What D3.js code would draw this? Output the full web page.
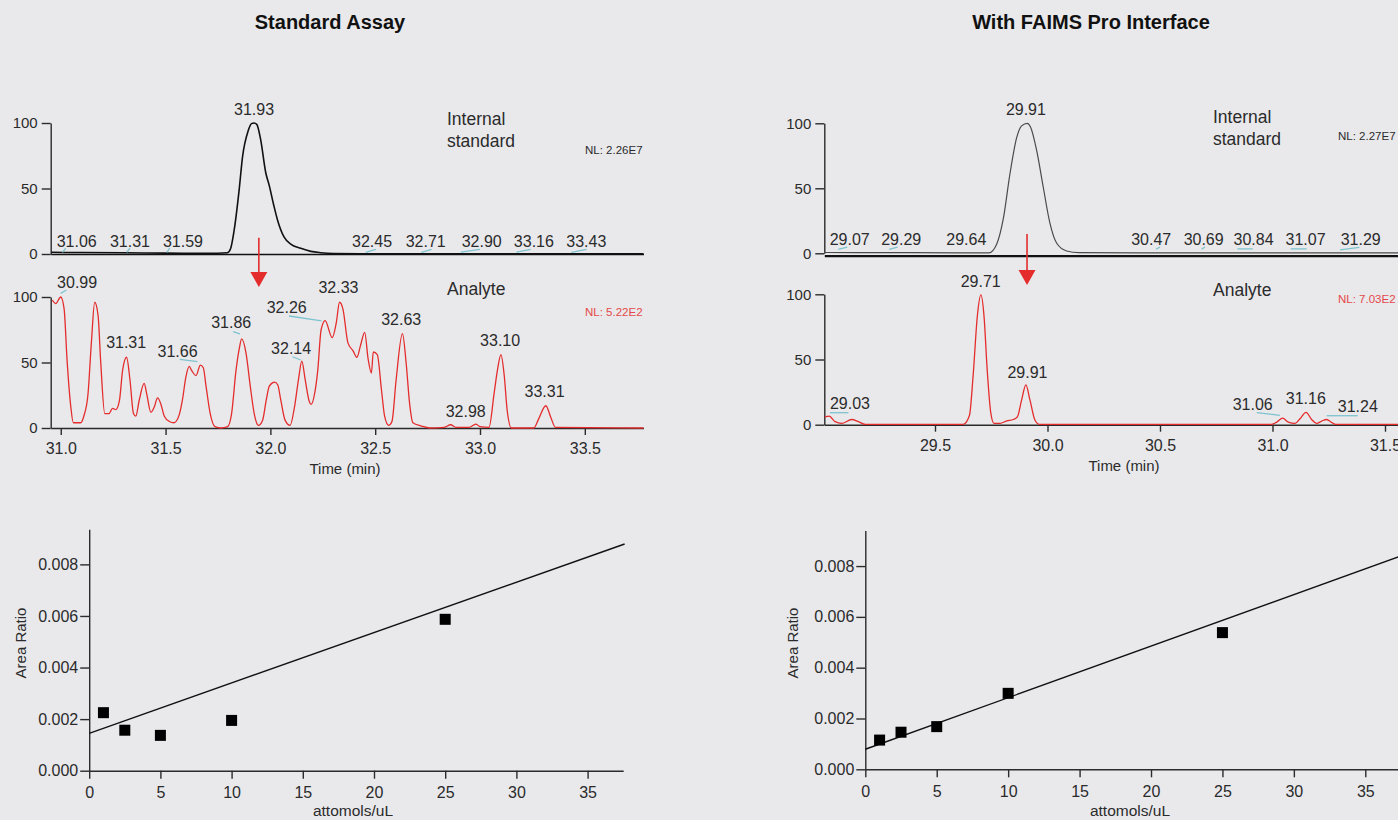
<!DOCTYPE html>
<html>
<head>
<meta charset="utf-8">
<script src="https://cdn.jsdelivr.net/npm/d3@7"></script>
<style>
  body { margin: 0; background: #e9e9eb; }
  svg { display: block; }
</style>
</head>
<body>
<svg id="chart" width="1398" height="820"></svg>
<script>
// ---- data ----
const titles = ["Standard Assay", "With FAIMS Pro Interface"];
const nlLabels = ["NL: 2.26E7", "NL: 5.22E2", "NL: 2.27E7", "NL: 7.03E2"];

// standard assay, internal standard trace (time min, relative abundance)
const stdTimeA = [30.955, 31.1, 31.3, 31.5, 31.7, 31.795, 31.81, 31.827, 31.851, 31.867, 31.894, 31.91, 31.922, 31.935, 31.954, 31.978, 31.995, 32.015, 32.034, 32.065, 32.097, 32.145, 32.193, 32.24, 32.3, 32.5, 33.0, 33.78];
const stdIntA = [1.3, 1.1, 0.9, 0.7, 0.5, 1, 4, 18, 49, 74, 94, 99.5, 100, 99, 87, 62, 52, 38, 26, 13, 7.6, 4.3, 2, 1, 0.4, 0.2, 0.2, 0.2];

// standard assay, analyte trace
const anaTimeA = [30.96, 30.976, 31.0, 31.016, 31.03, 31.048, 31.06, 31.095, 31.11, 31.13, 31.146, 31.162, 31.178, 31.19, 31.21, 31.23, 31.247, 31.263, 31.28, 31.295, 31.314, 31.33, 31.347, 31.358, 31.374, 31.398, 31.41, 31.43, 31.446, 31.462, 31.478, 31.494, 31.518, 31.54, 31.565, 31.58, 31.597, 31.613, 31.624, 31.645, 31.666, 31.68, 31.693, 31.713, 31.736, 31.764, 31.796, 31.815, 31.836, 31.852, 31.863, 31.884, 31.904, 31.924, 31.943, 31.963, 31.98, 31.995, 32.02, 32.035, 32.05, 32.07, 32.094, 32.115, 32.134, 32.15, 32.166, 32.186, 32.194, 32.213, 32.226, 32.242, 32.261, 32.295, 32.314, 32.33, 32.346, 32.37, 32.394, 32.413, 32.43, 32.45, 32.466, 32.482, 32.491, 32.51, 32.53, 32.545, 32.564, 32.58, 32.6, 32.63, 32.648, 32.664, 32.68, 32.72, 32.76, 32.83, 32.86, 32.885, 32.948, 32.98, 33.0, 33.043, 33.067, 33.083, 33.1, 33.115, 33.13, 33.15, 33.257, 33.28, 33.314, 33.338, 33.36, 33.78];
const anaIntA = [97.7, 95, 100, 91, 52, 16, 4, 4, 9, 26, 65, 96, 86, 52, 11, 11, 15, 14, 21, 44, 54, 37, 11, 9, 21, 34, 26, 12, 16, 23, 18, 9, 5, 4, 10, 21, 39, 47, 44, 40, 48, 46, 32, 11, 1, 0, 1, 11, 44, 61, 68, 57, 32, 10, 2, 6, 21, 32, 35, 33, 21, 6, 2, 16, 37, 51, 37, 20, 18, 28, 44, 75, 82, 69, 80, 96, 91, 65, 59, 54, 63, 73, 53, 42, 58, 56, 29, 9, 2, 5, 37, 72, 49, 19, 4, 1.5, 0, 0.5, 2.5, 0.5, 0.5, 3, 1, 0.5, 26, 44, 56, 41, 13, 0, 0, 7, 17, 8, 0.5, 0];

// FAIMS, internal standard trace
const stdTimeB = [29.008, 29.3, 29.6, 29.74, 29.774, 29.804, 29.833, 29.863, 29.885, 29.91, 29.925, 29.952, 29.981, 30.011, 30.041, 30.085, 30.14, 30.4, 31.92];
const stdIntB = [0.6, 0.5, 0.4, 0.4, 7, 27, 61, 89, 98, 100, 97, 79, 51, 23, 7.7, 1.8, 0.5, 0.3, 0.3];

// FAIMS, analyte trace
const anaTimeB = [29.01, 29.03, 29.056, 29.085, 29.13, 29.16, 29.19, 29.626, 29.653, 29.67, 29.688, 29.704, 29.718, 29.732, 29.748, 29.762, 29.789, 29.819, 29.848, 29.866, 29.885, 29.904, 29.922, 29.944, 29.964, 30.996, 31.019, 31.045, 31.07, 31.1, 31.122, 31.149, 31.174, 31.196, 31.219, 31.24, 31.258, 31.28, 31.92];
const anaIntB = [6, 6.5, 2.3, 1, 4, 2.3, 0.3, 0.3, 7, 39, 83, 99.5, 83, 42, 9, 1, 1, 3, 4, 6, 19, 30.5, 19, 3.6, 0.3, 0.3, 2, 5, 2, 1, 4.6, 9.5, 4, 1, 2.8, 4, 2.3, 0.3, 0.3];

// peak annotations: [text, label time, label intensity, leader [t1, v1, t2, v2] or null]
const peaksStdA = [
  ["31.93", 31.922, 106.1, null],
  ["31.06", 31.076, 5.7, [31.008, 1.3, 31.024, 4.4]],
  ["31.31", 31.33, 5.7, [31.315, 1.3, 31.33, 4.4]],
  ["31.59", 31.583, 5.7, [31.506, 1.3, 31.52, 4.4]],
  ["32.45", 32.485, 5.7, [32.455, 1.3, 32.503, 3.6]],
  ["32.71", 32.741, 5.7, [32.721, 1.3, 32.769, 3.6]],
  ["32.90", 33.008, 5.7, [32.908, 1.5, 33.0, 3.6]],
  ["33.16", 33.257, 5.7, [33.174, 1.5, 33.242, 3.6]],
  ["33.43", 33.507, 5.7, [33.436, 1.3, 33.508, 3.6]]
];
const peaksAnaA = [
  ["30.99", 31.078, 106.9, [31.0, 102.8, 31.027, 105.3]],
  ["31.31", 31.312, 60.8, null],
  ["31.66", 31.557, 54.4, [31.568, 52.4, 31.652, 50.6]],
  ["31.86", 31.813, 76.1, [31.822, 73.5, 31.855, 71.8]],
  ["32.14", 32.099, 56.3, [32.105, 54.4, 32.145, 51.9]],
  ["32.26", 32.078, 88, [32.089, 85.5, 32.244, 81.7]],
  ["32.33", 32.325, 102.8, null],
  ["32.63", 32.624, 78.6, null],
  ["32.98", 32.932, 8.6, null],
  ["33.10", 33.096, 62.6, null],
  ["33.31", 33.308, 23.9, null]
];
const peaksStdB = [
  ["29.91", 29.904, 106.4, null],
  ["29.07", 29.121, 6.4, [29.07, 3.1, 29.11, 4.8]],
  ["29.29", 29.35, 6.4, [29.296, 3.1, 29.334, 4.8]],
  ["29.64", 29.639, 6.4, null],
  ["30.47", 30.461, 6.4, [30.482, 3.1, 30.5, 4.8]],
  ["30.69", 30.694, 6.4, [30.685, 3.1, 30.7, 4.8]],
  ["30.84", 30.916, 6.4, [30.844, 3.4, 30.912, 3.4]],
  ["31.07", 31.147, 6.4, [31.081, 3.4, 31.152, 3.4]],
  ["31.29", 31.392, 6.4, [31.3, 2.6, 31.386, 4.5]]
];
const peaksAnaB = [
  ["29.71", 29.703, 105.8, null],
  ["29.91", 29.911, 35.6, null],
  ["29.03", 29.122, 12, [29.033, 9.2, 29.115, 9.2]],
  ["31.06", 30.912, 11.3, [30.93, 9.2, 31.033, 7.2]],
  ["31.16", 31.148, 15.9, null],
  ["31.24", 31.379, 10, [31.241, 6.9, 31.379, 6.9]]
];

// red arrows: [time, top intensity (upper trace), tip intensity (lower trace)]
const arrowA = [31.945, 12.4, 107.6];
const arrowB = [29.909, 14.8, 107.1];

// calibration curves
const concs = [1, 2.5, 5, 10, 25];
const ratioA = [0.00225, 0.00157, 0.00137, 0.00195, 0.00587];
const ratioB = [0.00115, 0.00146, 0.00168, 0.00299, 0.00538];
const fitA = [[0, 0.00145], [37.6, 0.00879]];
const fitB = [[0, 0.00079], [37.6, 0.00842]];

const timeTicksA = [31.0, 31.5, 32.0, 32.5, 33.0, 33.5];
const timeTicksB = [29.5, 30.0, 30.5, 31.0, 31.5];
const intensityTicks = [0, 50, 100];
const concTicks = [0, 5, 10, 15, 20, 25, 30, 35];
const ratioTicks = [0, 0.002, 0.004, 0.006, 0.008];

// ---- drawing ----
const FONT = '"Liberation Sans", Arial, Helvetica, sans-serif';
const INK = "#2b2b2b";
const RED = "#e42c2c";
const TEAL = "#7dc3cf";

const svg = d3.select("#chart").attr("font-family", FONT);

const xA = d3.scaleLinear().domain([30.952, 33.78]).range([50.7, 643.5]);
const yATop = d3.scaleLinear().domain([0, 100]).range([254, 123]);
const yABot = d3.scaleLinear().domain([0, 100]).range([428, 297]);
const xB = d3.scaleLinear().domain([29.008, 31.92]).range([824.3, 1479.5]);
const yBTop = d3.scaleLinear().domain([0, 100]).range([253.3, 123.3]);
const yBBot = d3.scaleLinear().domain([0, 100]).range([424.7, 294.3]);

const sxA = d3.scaleLinear().domain([0, 37.5]).range([89.2, 623.2]);
const syA = d3.scaleLinear().domain([0, 0.00936]).range([770.7, 529.3]);
const sxB = d3.scaleLinear().domain([0, 37.5]).range([865.3, 1401]);
const syB = d3.scaleLinear().domain([0, 0.0094]).range([769.3, 530.5]);

function styleAxis(g, size) {
  g.attr("font-family", FONT).attr("font-size", size);
  g.selectAll("path, line").attr("stroke", INK).attr("stroke-width", 1.4);
  g.selectAll("text").attr("fill", INK);
}

// titles
svg.append("text").attr("x", 330).attr("y", 29).attr("text-anchor", "middle")
  .attr("font-size", 20).attr("font-weight", "bold").attr("fill", "#111").text(titles[0]);
svg.append("text").attr("x", 1091).attr("y", 29).attr("text-anchor", "middle")
  .attr("font-size", 20).attr("font-weight", "bold").attr("fill", "#111").text(titles[1]);

function trace(x, y, times, ints, color, width) {
  svg.append("path")
    .datum(d3.zip(times, ints))
    .attr("fill", "none")
    .attr("stroke", color)
    .attr("stroke-width", width)
    .attr("stroke-linejoin", "round")
    .attr("d", d3.line().x(d => x(d[0])).y(d => y(d[1])).curve(d3.curveMonotoneX));
}

function peakLabels(x, y, peaks) {
  peaks.forEach(p => {
    if (p[3]) {
      svg.append("line")
        .attr("x1", x(p[3][0])).attr("y1", y(p[3][1]))
        .attr("x2", x(p[3][2])).attr("y2", y(p[3][3]))
        .attr("stroke", TEAL).attr("stroke-width", 1.3);
    }
    svg.append("text")
      .attr("x", x(p[1])).attr("y", y(p[2]))
      .attr("text-anchor", "middle")
      .attr("font-size", 16).attr("fill", INK)
      .text(p[0]);
  });
}

function chromAxes(x, yTop, yBot, ticks, topOffset) {
  const yl = x.range()[0];
  svg.append("g").attr("transform", `translate(${yl},0)`)
    .call(d3.axisLeft(yTop).tickValues(intensityTicks).tickSize(9).tickPadding(4).tickSizeOuter(0))
    .call(g => styleAxis(g, 15));
  svg.append("g").attr("transform", `translate(${yl},0)`)
    .call(d3.axisLeft(yBot).tickValues(intensityTicks).tickSize(9).tickPadding(4).tickSizeOuter(0))
    .call(g => styleAxis(g, 15));
  svg.append("g").attr("transform", `translate(0,${yTop(0) + topOffset})`)
    .call(d3.axisBottom(x).tickValues([]).tickSizeOuter(0))
    .call(g => styleAxis(g, 15))
    .call(g => g.select("path").attr("stroke", "#111").attr("stroke-width", topOffset ? 2.2 : 1.6));
  svg.append("g").attr("transform", `translate(0,${yBot(0)})`)
    .call(d3.axisBottom(x).tickValues(ticks).tickSize(7).tickPadding(8).tickSizeOuter(0).tickFormat(d3.format(".1f")))
    .call(g => styleAxis(g, 16));
}

function arrow(x, yTop, yBot, a) {
  const ax = x(a[0]), top = yTop(a[1]), tip = yBot(a[2]);
  svg.append("line").attr("x1", ax).attr("x2", ax).attr("y1", top).attr("y2", tip - 12)
    .attr("stroke", RED).attr("stroke-width", 1.6);
  svg.append("path")
    .attr("d", `M${ax - 8.5},${tip - 15}L${ax + 8.5},${tip - 15}L${ax},${tip}Z`)
    .attr("fill", RED);
}

function sideText(x, y, lines, size, color) {
  lines.forEach((s, i) => {
    svg.append("text").attr("x", x).attr("y", y + i * 21.7)
      .attr("font-size", size).attr("fill", color).text(s);
  });
}

// --- standard assay chromatograms
chromAxes(xA, yATop, yABot, timeTicksA, 0);
trace(xA, yATop, stdTimeA, stdIntA, "#111", 1.6);
trace(xA, yABot, anaTimeA, anaIntA, RED, 1.3);
peakLabels(xA, yATop, peaksStdA);
peakLabels(xA, yABot, peaksAnaA);
arrow(xA, yATop, yABot, arrowA);
sideText(447, 125, ["Internal", "standard"], 17.5, INK);
sideText(447, 295, ["Analyte"], 17.5, INK);
sideText(585, 154, [nlLabels[0]], 11.5, INK);
sideText(585, 316, [nlLabels[1]], 11.5, "#e5484a");
svg.append("text").attr("x", 345).attr("y", 474).attr("text-anchor", "middle")
  .attr("font-size", 15).attr("fill", INK).text("Time (min)");

// --- FAIMS chromatograms
chromAxes(xB, yBTop, yBBot, timeTicksB, 2.3);
trace(xB, yBTop, stdTimeB, stdIntB, "#4a4a4a", 1.2);
trace(xB, yBBot, anaTimeB, anaIntB, RED, 1.3);
peakLabels(xB, yBTop, peaksStdB);
peakLabels(xB, yBBot, peaksAnaB);
arrow(xB, yBTop, yBBot, arrowB);
sideText(1213, 123, ["Internal", "standard"], 17.5, INK);
sideText(1213, 296, ["Analyte"], 17.5, INK);
sideText(1338, 140, [nlLabels[2]], 11.5, INK);
sideText(1338, 303, [nlLabels[3]], 11.5, "#e5484a");
svg.append("text").attr("x", 1124).attr("y", 471).attr("text-anchor", "middle")
  .attr("font-size", 15).attr("fill", INK).text("Time (min)");

// --- calibration scatter plots
function calib(sx, sy, ratios, fit, labelX, yLabelX) {
  const x0 = sx.range()[0], y0 = sy.range()[0];
  svg.append("g").attr("transform", `translate(${x0},0)`)
    .call(d3.axisLeft(sy).tickValues(ratioTicks).tickSize(9).tickPadding(2).tickSizeOuter(0).tickFormat(d3.format(".3f")))
    .call(g => styleAxis(g, 16));
  svg.append("g").attr("transform", `translate(0,${y0})`)
    .call(d3.axisBottom(sx).tickValues(concTicks).tickSize(8).tickPadding(8).tickSizeOuter(0))
    .call(g => styleAxis(g, 16));

  svg.append("path")
    .datum(fit)
    .attr("fill", "none").attr("stroke", "#111").attr("stroke-width", 1.4)
    .attr("d", d3.line().x(d => sx(d[0])).y(d => sy(d[1])));

  svg.selectAll(null)
    .data(d3.zip(concs, ratios))
    .enter()
    .append("rect")
    .attr("x", d => sx(d[0]) - 5.5)
    .attr("y", d => sy(d[1]) - 5.5)
    .attr("width", 11).attr("height", 11)
    .attr("fill", "#000");

  svg.append("text").attr("x", labelX).attr("y", 816).attr("text-anchor", "middle")
    .attr("font-size", 15.5).attr("fill", INK).text("attomols/uL");
  svg.append("text")
    .attr("transform", `translate(${yLabelX},643) rotate(-90)`)
    .attr("text-anchor", "middle")
    .attr("font-size", 15).attr("fill", INK).text("Area Ratio");
}

calib(sxA, syA, ratioA, fitA, 353, 26);
calib(sxB, syB, ratioB, fitB, 1130, 798);
</script>
</body>
</html>
